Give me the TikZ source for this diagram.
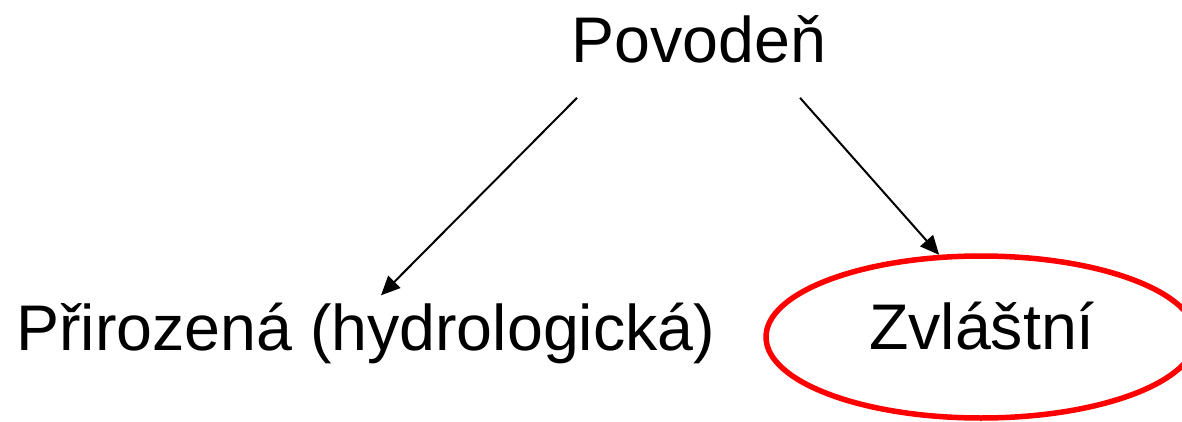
\documentclass[tikz,border=0pt]{standalone}
\usepackage{fontspec}
\setmainfont{Liberation Sans}
\usetikzlibrary{shapes.geometric,arrows.meta,calc}
\tikzset{
  label/.style={font=\fontsize{64.5}{70}\selectfont, inner sep=0pt},
  link/.style={line width=2pt, -{Triangle[length=19pt,width=17pt]}},
  mark ring/.style={draw=red, line width=5.5pt, ellipse, minimum width=430pt, minimum height=162pt, inner sep=0pt}
}
\begin{document}
\begin{tikzpicture}[x=1pt,y=-1pt]
  \useasboundingbox (0,0) rectangle (1182,422);
  % top heading and its two branches
  \node[label, anchor=base] (pov) at (699,63) {Povodeň};
  \node[label, anchor=base west] (nat) at (16,350) {Přirozená (hydrologická)};
  \node[mark ring] (ring) at (981,337) {};
  \node[label, anchor=base] (spec) at (982,349) {Zvláštní};
  % branch arrows
  \coordinate (ls) at ($(pov.south)+(-122,34)$);
  \coordinate (rs) at ($(pov.south)+(101,34)$);
  \coordinate (le) at ($(nat.north west)+(365,-7)$);
  \draw[link] (ls) -- (le);
  \draw[link] (rs) -- (ring.117);
\end{tikzpicture}
\end{document}
